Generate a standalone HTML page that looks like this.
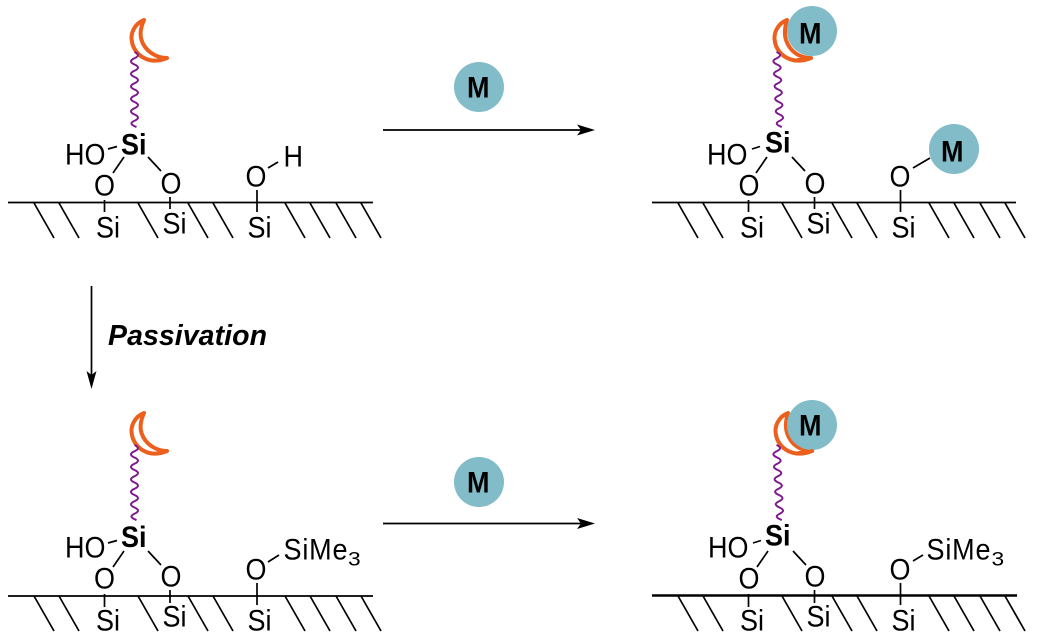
<!DOCTYPE html>
<html>
<head>
<meta charset="utf-8">
<style>
html,body{margin:0;padding:0;background:#fff;}
svg{display:block;}
text{font-family:"Liberation Sans",Arial,sans-serif;font-size:27px;fill:#000;transform-box:fill-box;transform-origin:0 100%;transform:translateY(1px) scaleY(1.08);}
.b{font-weight:bold;}
.sub{font-size:19px;transform:translateY(0.3px) scaleX(1.2);}
.pv{font-size:28.500px;font-weight:bold;font-style:italic;transform:none;}
.l{stroke:#000;stroke-width:1.7;fill:none;}
.w{stroke:#7d1b8e;stroke-width:2;fill:none;}
.mo{fill:#fff;stroke:#ec5f1c;stroke-width:4;stroke-linejoin:round;}
.mt{fill:none;stroke:#ec5f1c;stroke-width:4;stroke-linecap:round;}
.c{fill:#81bcc8;}
</style>
</head>
<body>
<svg width="1041" height="638" viewBox="0 0 1041 638" xmlns="http://www.w3.org/2000/svg">
<rect width="1041" height="638" fill="#fff"/>

<!-- Panel 1 -->
<g>
<path class="l" d="M8,202.500H373M34,203L54,238M59,203L79,238M138,203L158,238M188,203L208,238M213,203L233,238M285,203L305,238M310,203L330,238M336,203L356,238M361,203L381,238"/>
<path class="l" d="M108,149L117,146.500M124,157L113,173M148,157L161,171M268,168L278,162M104.500,200V212M170,197V209M257,190V212"/>
<path class="mo" d="M144,20C134,24 130,34 132,42C134,54 148,66 167,58C156,58 145,51 141.500,40C139.500,33 141,27 144,20Z"/>
<path class="w" d="M134.500,52q7,3.080 0,6.250q-7,3.080 0,6.250q7,3.080 0,6.250q-7,3.080 0,6.250q7,3.080 0,6.250q-7,3.080 0,6.250q7,3.080 0,6.250q-7,3.080 0,6.250q7,3.080 0,6.250q-7,3.080 0,6.250q7,3.080 0,6.250q-7,3.080 2,6.250"/>
<text class="b" x="121" y="154">Si</text>
<text x="65" y="164">HO</text>
<text x="94" y="195">O</text>
<text x="160.500" y="193">O</text>
<text x="245.500" y="186">O</text>
<text x="283.500" y="166">H</text>
<text x="96" y="237">Si</text>
<text x="162.500" y="233">Si</text>
<text x="247.500" y="237">Si</text>
</g>

<!-- Panel 2 -->
<g>
<path class="l" d="M652,202.500H1016M678,203L698,238M703,203L723,238M782,203L802,238M832,203L852,238M857,203L877,238M929,203L949,238M954,203L974,238M980,203L1000,238M1005,203L1025,238"/>
<path class="l" d="M752,149L760,146.500M767,157L756,173M792,157L805,171M913,168L930,158M748.500,200V212M814.500,197V209M900.500,190V212"/>
<path class="mo" d="M787,20C777,24 773,34 775,42C777,54 791,66 811,58C800,58 790,52 786,40C784,33 785,27 787,20Z"/>
<path class="w" d="M776.500,52q7,3.080 0.300,6.250q-7,3.080 0.300,6.250q7,3.080 0.300,6.250q-7,3.080 0.300,6.250q7,3.080 0.300,6.250q-7,3.080 0.300,6.250q7,3.080 0.300,6.250q-7,3.080 0.300,6.250q7,3.080 0.300,6.250q-7,3.080 0.300,6.250q7,3.080 0.300,6.250q-7,3.080 2,6.250"/>
<circle class="c" cx="812" cy="31" r="25"/>
<path class="mt" d="M798,60C803,60 808,59 811,58"/>
<circle class="c" cx="954" cy="149" r="25"/>
<text class="b" x="799" y="43">M</text>
<text class="b" x="941" y="161">M</text>
<text class="b" x="765" y="152">Si</text>
<text x="707" y="164">HO</text>
<text x="738.500" y="195">O</text>
<text x="804.500" y="193">O</text>
<text x="889.500" y="186">O</text>
<text x="740" y="237">Si</text>
<text x="806.500" y="233">Si</text>
<text x="891.500" y="237">Si</text>
</g>

<!-- Panel 3 -->
<g>
<path class="l" d="M8,596H373M34,596L54,631M59,596L79,631M138,596L158,631M188,596L208,631M213,596L233,631M285,596L305,631M310,596L330,631M336,596L356,631M361,596L381,631"/>
<path class="l" d="M108,543L117,540.500M124,551L113,567M148,551L161,565M268,562L279,555M104.500,594V607M170,590V603M257,583V605"/>
<path class="mo" d="M144,413C134,417 130,427 132,435C134,447 148,459 167,451C156,451 145,444 141.500,433C139.500,426 141,420 144,413Z"/>
<path class="w" d="M134.500,445q7,3.080 0,6.250q-7,3.080 0,6.250q7,3.080 0,6.250q-7,3.080 0,6.250q7,3.080 0,6.250q-7,3.080 0,6.250q7,3.080 0,6.250q-7,3.080 0,6.250q7,3.080 0,6.250q-7,3.080 0,6.250q7,3.080 0,6.250q-7,3.080 2,6.250"/>
<text class="b" x="121" y="546.500">Si</text>
<text x="65" y="557">HO</text>
<text x="94" y="588">O</text>
<text x="160.500" y="586">O</text>
<text x="245.500" y="579">O</text>
<text x="283.500" y="559" textLength="64" lengthAdjust="spacing">SiMe</text>
<text class="sub" x="348" y="565">3</text>
<text x="96" y="630">Si</text>
<text x="162.500" y="626">Si</text>
<text x="247.500" y="630">Si</text>
</g>

<!-- Panel 4 -->
<g>
<path d="M652,595.500H1017" stroke="#000" stroke-width="2.400" fill="none"/>
<path class="l" d="M678,596L698,631M703,596L723,631M782,596L802,631M832,596L852,631M857,596L877,631M929,596L949,631M954,596L974,631M980,596L1000,631M1005,596L1025,631"/>
<path class="l" d="M753,543L761,540.500M768,551L757,567M793,551L806,565M913,561L923,555M748.500,594V607M814.500,590V603M900.500,583V605"/>
<path class="mo" d="M788,413C778,417 774,427 776,435C778,447 792,459 812,451C801,451 791,445 787,433C785,426 786,420 788,413Z"/>
<path class="w" d="M776.500,445q7,3.080 0.300,6.250q-7,3.080 0.300,6.250q7,3.080 0.300,6.250q-7,3.080 0.300,6.250q7,3.080 0.300,6.250q-7,3.080 0.300,6.250q7,3.080 0.300,6.250q-7,3.080 0.300,6.250q7,3.080 0.300,6.250q-7,3.080 0.300,6.250q7,3.080 0.300,6.250q-7,3.080 2,6.250"/>
<circle class="c" cx="812" cy="425" r="25"/>
<path class="mt" d="M799,453C804,453 809,452 812,451"/>
<text class="b" x="799" y="435">M</text>
<text class="b" x="765" y="545">Si</text>
<text x="708" y="557">HO</text>
<text x="738.500" y="588">O</text>
<text x="804.500" y="586">O</text>
<text x="889.500" y="579">O</text>
<text x="926.500" y="559" textLength="64" lengthAdjust="spacing">SiMe</text>
<text class="sub" x="991.500" y="565">3</text>
<text x="740" y="630">Si</text>
<text x="806.500" y="626">Si</text>
<text x="891.500" y="630">Si</text>
</g>

<!-- Arrows -->
<path class="l" d="M383,130H585"/>
<path d="M595,130L577,124.500L581,130L577,135.500Z" fill="#000"/>
<path class="l" d="M383,523.500H585"/>
<path d="M595,523.500L577,518L581,523.500L577,529Z" fill="#000"/>
<path class="l" d="M91.500,286V378"/>
<path d="M91.500,389L86.500,371L91.500,375L96.500,371Z" fill="#000"/>

<circle class="c" cx="479" cy="87" r="25"/>
<text class="b" x="467" y="97">M</text>
<circle class="c" cx="479" cy="482" r="25"/>
<text class="b" x="467" y="492">M</text>

<text class="pv" x="108" y="345" textLength="159" lengthAdjust="spacing">Passivation</text>
</svg>
</body>
</html>
